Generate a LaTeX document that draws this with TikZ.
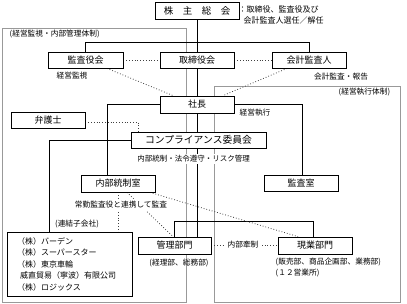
\documentclass[tikz,border=0pt]{standalone}
\usepackage{fontspec}
\setmainfont{Noto Sans CJK JP}
\usetikzlibrary{backgrounds}
\begin{document}
\begin{tikzpicture}[x=1pt,y=-1pt,
  box/.style={draw=black, line width=0.8pt, fill=white, inner sep=0pt,
    font=\fontsize{9}{10}\selectfont, minimum height=16pt},
  lbl/.style={inner sep=0.5pt, font=\fontsize{7.7}{9}\selectfont},
  wlbl/.style={lbl, fill=white},
  conn/.style={line width=0.8pt, draw=black},
  dots/.style={line width=0.8pt, dotted, draw=black!75},
  framebox/.style={draw=black!40, line width=0.8pt}]
\useasboundingbox (0,0) rectangle (407,304);

% boxes
\node[box, minimum width=84pt, minimum height=17pt, font=\fontsize{9.5}{10}\selectfont] (agm) at (197,10.5) {株　主　総　会};
\node[box, minimum width=75pt] (kansayaku) at (85.5,60) {監査役会};
\node[box, minimum width=74pt] (torishimari) at (197,60) {取締役会};
\node[box, minimum width=74pt] (kaikei) at (309,60) {会計監査人};
\node[box, minimum width=74pt, minimum height=17pt] (shacho) at (197,104.5) {社長};
\node[box, minimum width=74pt] (bengoshi) at (48,120) {弁護士};
\node[box, minimum width=135pt, font=\fontsize{9.8}{10}\selectfont] (comp) at (198.5,140) {コンプライアンス委員会};
\node[box, minimum width=74pt, minimum height=17pt] (naibu) at (118,183.5) {内部統制室};
\node[box, minimum width=74pt] (kansashitsu) at (301,183) {監査室};
\node[box, minimum width=73pt, minimum height=17pt] (kanri) at (174.5,245.5) {管理部門};
\node[box, minimum width=74pt, minimum height=17pt] (gengyo) at (315,245.5) {現業部門};
\node[box, text width=105pt, inner xsep=10pt, minimum height=64pt, align=left,
  font=\fontsize{8}{11.5}\selectfont] (sub) at (69.5,264)
  {（株）バーデン\\（株）スーパースター\\（株）東京車輪\\\hspace*{3pt}威直貿易（寧波）有限公司\\（株）ロジックス};

% labels
\node[lbl, anchor=west, font=\fontsize{8}{9}\selectfont] (note1) at (238,9) {：取締役、監査役及び};
\node[lbl, anchor=west, font=\fontsize{8}{9}\selectfont] (note2) at (243,20) {会計監査人選任／解任};
\node[lbl, anchor=west] (leftframe) at (9,34) {(経営監視・内部管理体制)};
\node[lbl, anchor=west] (rightframe) at (338,92) {(経営執行体制)};
\node[lbl] (kanshi) at (72,76) {経営監視};
\node[lbl] (houkoku) at (341,77) {会計監査・報告};
\node[lbl] (shikko) at (255,113) {経営執行};
\node[wlbl, font=\fontsize{7.5}{9}\selectfont, inner xsep=2pt, inner ysep=2pt] (naibutousei) at (193.5,159) {内部統制・法令遵守・リスク管理};
\node[wlbl, inner xsep=2pt, inner ysep=2pt] (joukin) at (121,205) {常勤監査役と連携して監査};
\node[lbl] (renketsu) at (77,224) {(連結子会社)};
\node[lbl] (keiri) at (179,263) {(経理部、総務部)};
\node[lbl, anchor=west] (hanbai) at (275,262) {(販売部、商品企画部、業務部)};
\node[lbl, anchor=west] (eigyo) at (275,273) {(１２営業所)};
\node[wlbl, inner xsep=4pt] (kensei) at (243,245) {内部牽制};

\begin{scope}[on background layer]
  % frames
  \draw[framebox] (2,28) rectangle (186,302);
  \draw[framebox] (214,86) rectangle (400,302);
  % solid connectors
  \draw[conn] (agm.south) -- (torishimari.north);
  \draw[conn] (kansayaku.north) -- ++(0,-9) -| (kaikei.north);
  \draw[conn] (torishimari.south) -- (shacho.north);
  \draw[conn] (shacho.south) -- (shacho.south |- kanri.north);
  \draw[conn] (shacho.west) -| ([xshift=-11pt]naibu.north);
  \draw[conn] (shacho.east) -| ([xshift=1pt]kansashitsu.north);
  \draw[conn] (comp.west) -| ([xshift=-20.5pt]sub.north);
  \draw[conn] (kanri.north) -- ++(0,-15) -| ([xshift=-2pt]gengyo.north);
  % dotted connectors
  \draw[dots] (kansayaku) -- (torishimari);
  \draw[dots] (torishimari) -- (kaikei);
  \draw[dots] ([xshift=21.5pt]kansayaku.south) -- ([xshift=-24pt]shacho.north);
  \draw[dots] ([xshift=-22pt]kaikei.south) -- ([xshift=26pt]shacho.north);
  \draw[dots] ([yshift=-2pt]bengoshi.east) -| ([xshift=-60.5pt]comp.north);
  \draw[dots] (naibu.south) -- (naibu.south |- sub.north);
  \draw[dots] ([xshift=9pt]naibu.south) -- ([xshift=-1.5pt]kanri.north);
  \draw[dots] ([xshift=32pt]naibu.south) -- ([xshift=-17pt]gengyo.north);
  \draw[dots] (kanri) -- (gengyo);
\end{scope}
\end{tikzpicture}
\end{document}
